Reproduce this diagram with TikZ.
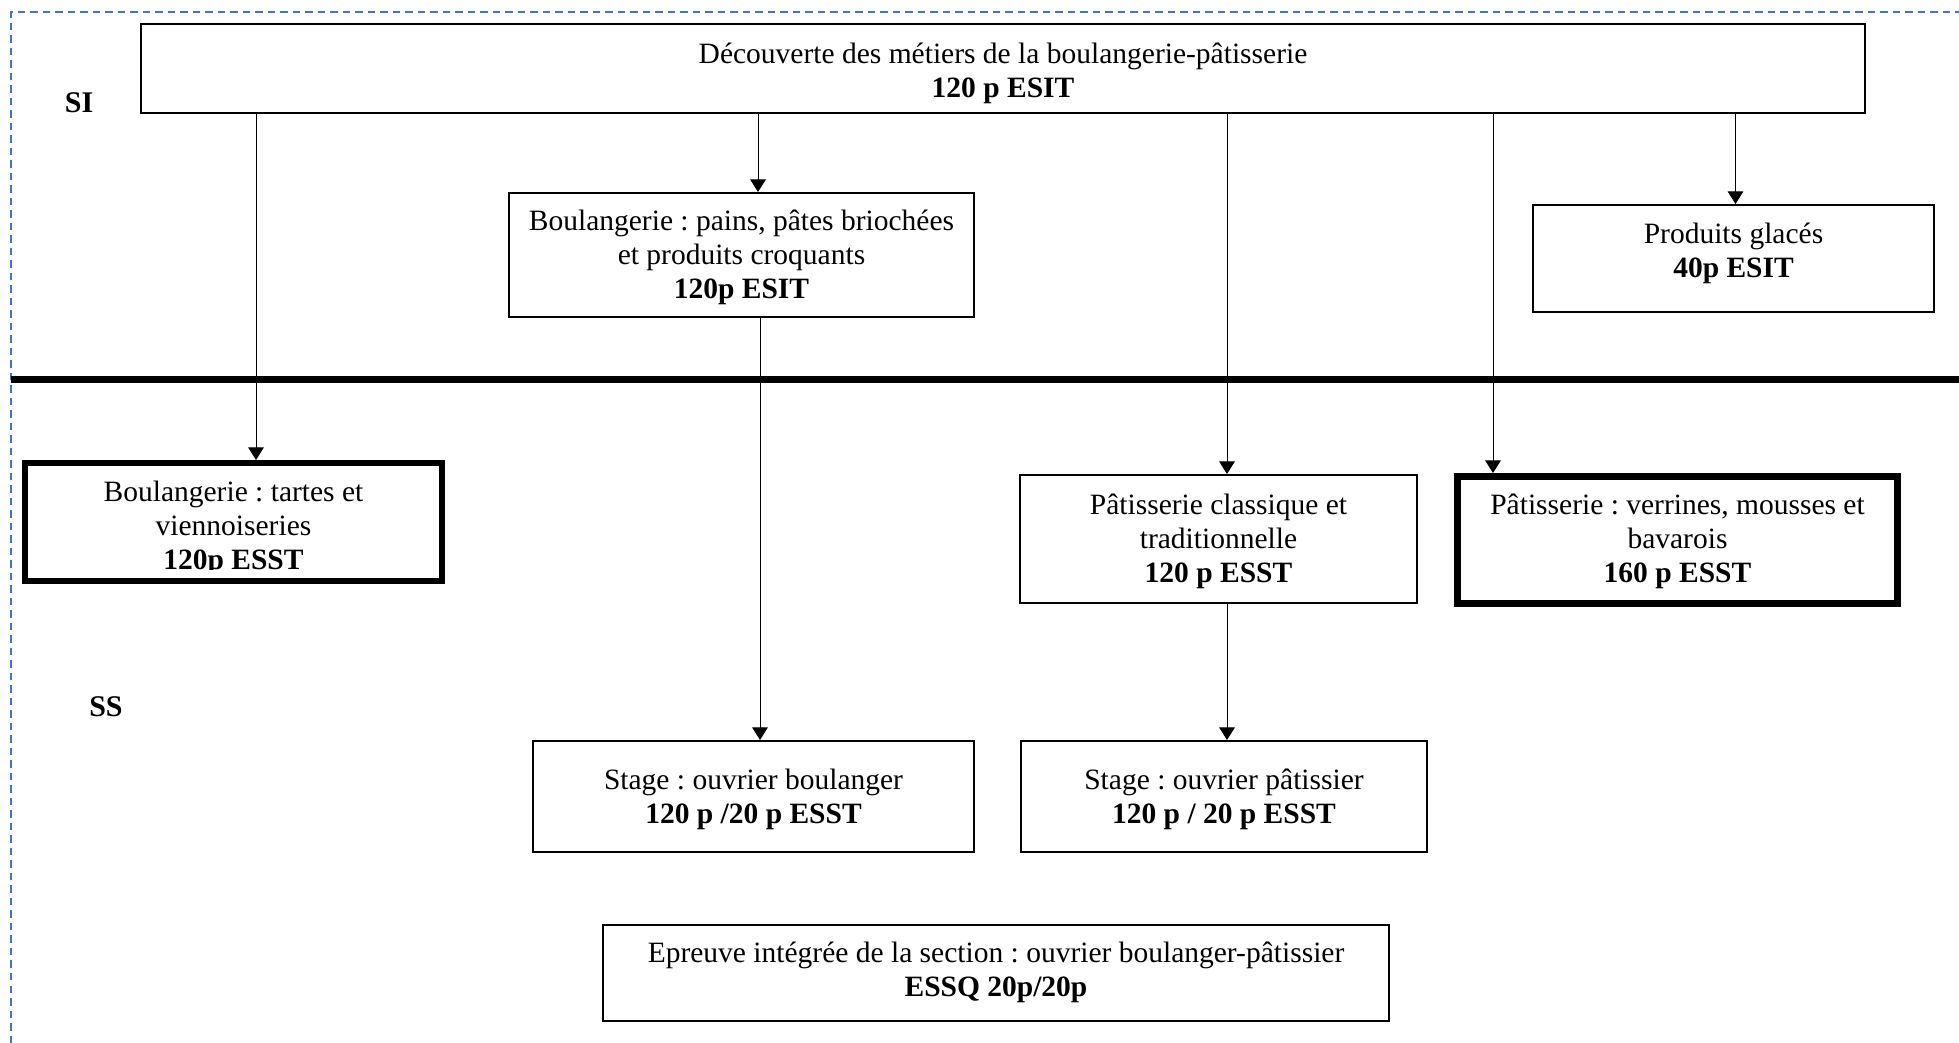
\documentclass[tikz,border=0pt]{standalone}
\usepackage{fontspec}
\setmainfont{Liberation Serif}
\frenchspacing
\usetikzlibrary{arrows.meta}
\newcommand\blk[2][0pt]{\raisebox{#1}[\height][\depth]{\begin{tabular}{@{}c@{}}#2\end{tabular}}}
\begin{document}
\begin{tikzpicture}[x=0.4pt,y=-0.4pt,
  txt/.style={inner sep=0pt, align=center, font=\fontsize{11.8}{13.6}\selectfont},
  box/.style={txt, draw, line width=0.8pt},
  thickbox/.style={txt, draw, line width=#1},
  sz/.style 2 args={minimum width=#1*0.4pt, minimum height=#2*0.4pt},
  arr/.style={line width=0.4pt, -{Triangle[length=5pt,width=6.2pt]}},
  lbl/.style={inner sep=0pt, font=\fontsize{12}{13.6}\selectfont\bfseries}]
\useasboundingbox (0,0) rectangle (1959,1043);
% dashed frame
\draw[color={rgb,255:red,68;green,114;blue,196}, line width=0.5pt, dash pattern=on 3pt off 2pt] (11,1043) -- (11,12) -- (1959,12);
% separator
\draw[line width=2.8pt] (11,380) -- (1959,380);
% labels
\node[lbl] (si) at (79,103) {SI};
\node[lbl] (ss) at (106,707) {SS};
% boxes
\node[box, sz={1724}{89}] (top) at (1003,68.5) {\blk[-2pt]{Découverte des métiers de la boulangerie-pâtisserie\\\textbf{120 p ESIT}}};
\node[box, sz={465}{124}] (pains) at (741.5,255) {\blk[-1.2pt]{Boulangerie : pains, pâtes briochées\\et produits croquants\\\textbf{120p ESIT}}};
\node[box, sz={401}{107}] (glaces) at (1733.5,258.5) {\blk[2pt]{Produits glacés\\\textbf{40p ESIT}}};
\node[thickbox=2.4pt, sz={417}{118}] (tartes) at (233.5,522) {};
\begin{scope}
  \clip (28,466) rectangle (439,570);
  \node[txt] (tartestxt) at (233.5,526) {\blk[-1.2pt]{Boulangerie : tartes et\\viennoiseries\\\textbf{120p ESST}}};
\end{scope}
\node[box, sz={397}{128}] (classique) at (1218.5,539) {\blk[-1.2pt]{Pâtisserie classique et\\traditionnelle\\\textbf{120 p ESST}}};
\node[thickbox=2.8pt, sz={440}{127}] (verrines) at (1677.5,540) {\blk[-0.8pt]{Pâtisserie : verrines, mousses et\\bavarois\\\textbf{160 p ESST}}};
\node[box, sz={441}{111}] (stageb) at (753.5,796.5) {\blk[-1.2pt]{Stage : ouvrier boulanger\\\textbf{120 p /20 p ESST}}};
\node[box, sz={406}{111}] (stagep) at (1224,796.5) {\blk[-1.2pt]{Stage : ouvrier pâtissier\\\textbf{120 p / 20 p ESST}}};
\node[box, sz={786}{96}] (epreuve) at (996,973) {\blk{Epreuve intégrée de la section : ouvrier boulanger-pâtissier\\\textbf{ESSQ 20p/20p}}};
% connector columns
\coordinate (c1) at (256,0);
\coordinate (c2) at (758,0);
\coordinate (c3) at (760,0);
\coordinate (c4) at (1227,0);
\coordinate (c6) at (1493,0);
\coordinate (c7) at (1735.5,0);
\draw[arr] (top.south -| c1) -- (tartes.north -| c1);
\draw[arr] (top.south -| c2) -- (pains.north -| c2);
\draw[arr] (pains.south -| c3) -- (stageb.north -| c3);
\draw[arr] (top.south -| c4) -- (classique.north -| c4);
\draw[arr] (classique.south -| c4) -- (stagep.north -| c4);
\draw[arr] (top.south -| c6) -- (verrines.north -| c6);
\draw[arr] (top.south -| c7) -- (glaces.north -| c7);
\end{tikzpicture}
\end{document}
